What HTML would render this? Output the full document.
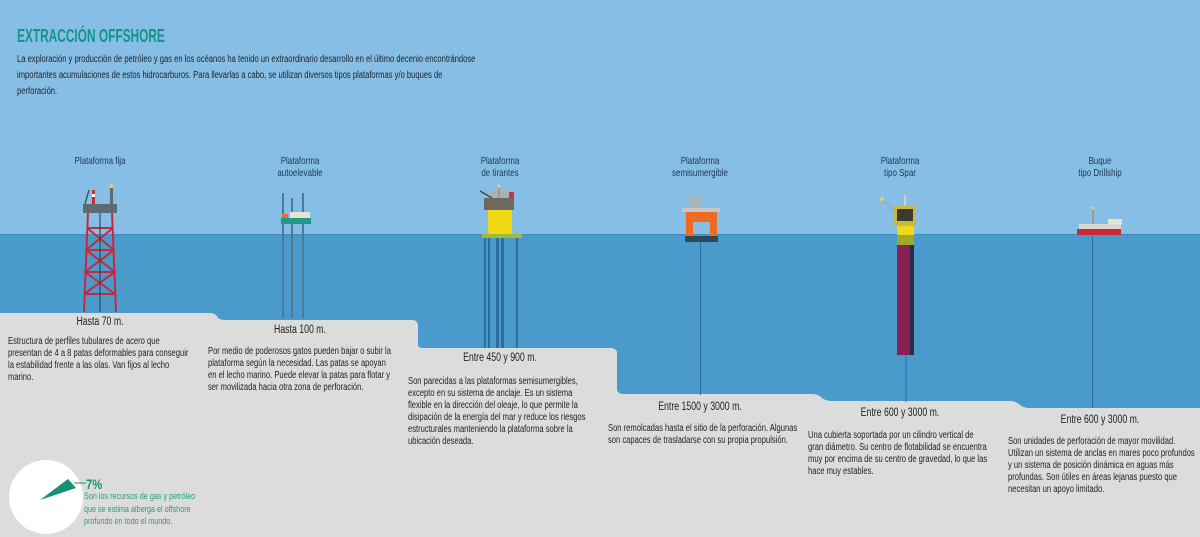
<!DOCTYPE html>
<html><head><meta charset="utf-8"><style>
body{margin:0;width:1200px;height:537px;overflow:hidden;font-family:"Liberation Sans",sans-serif;}
svg{position:absolute;left:0;top:0}
.t{position:absolute;color:#222;font-size:10px;line-height:12px;transform:scaleX(0.76);transform-origin:0 0;}
.c{text-align:center;color:#1e3550;font-size:10.5px;line-height:12px;transform-origin:50% 0;width:140px;white-space:nowrap}
.d{font-size:11.5px;text-align:center;color:#222;transform-origin:50% 0;width:140px;white-space:nowrap}
</style></head><body>
<svg width="1200" height="537" viewBox="0 0 1200 537">
<rect width="1200" height="235" fill="#86bee6"/>
<rect y="234" width="1200" height="303" fill="#4a9bcc"/>
<line x1="0" y1="234.5" x2="1200" y2="234.5" stroke="#3e8bbc"/>
<path d="M0 313 H210 Q216 313 218 318 Q220 320 226 320 H412 Q418 320 418 326 V345 Q418 348 424 348 H610 Q616 348 617 352 V390 Q618 394 624 394 H812 Q818 394 822 398 Q826 401 832 401 H1010 Q1016 401 1020 405 Q1024 408 1030 408 H1200 V537 H0 Z" fill="#dcdcdc"/>
<g stroke="#c8283c" stroke-width="2" fill="none">
<path d="M88 213 L84 312 M112 213 L116 312"/>
<path d="M87 228 H113 M86 250 H114 M85 272 H115 M84 294 H116 M87 228 L114 250 L85 272 L115 294 M113 228 L86 250 L115 272 L84 294"/>
</g>
<line x1="100" y1="213" x2="100" y2="312" stroke="#333" stroke-width="1"/>
<rect x="83" y="204" width="34" height="9" fill="#5d6b74"/>
<rect x="92" y="190" width="3" height="14" fill="#c8283c"/><rect x="92" y="194" width="3" height="3" fill="#fff"/>
<rect x="110" y="188" width="3" height="16" fill="#5d6b74"/><circle cx="111.5" cy="186" r="2" fill="#e8d060"/>
<line x1="85" y1="204" x2="89" y2="190" stroke="#555" stroke-width="1.5"/>
<g fill="#4a7b98"><rect x="282" y="193" width="2" height="125"/><rect x="291" y="198" width="2" height="120"/><rect x="302" y="193" width="2" height="125"/></g>
<rect x="281" y="218" width="30" height="6" fill="#1f9a88"/>
<rect x="290" y="212" width="20" height="6" fill="#e8e2d4"/><rect x="282" y="214" width="6" height="4" fill="#e86b30"/>
<g fill="#2e6e9e"><rect x="484" y="238" width="2" height="110"/><rect x="488" y="238" width="2" height="110"/><rect x="496" y="238" width="3" height="110"/><rect x="501" y="238" width="3" height="110"/><rect x="516" y="238" width="2" height="110"/></g>
<rect x="484" y="198" width="30" height="12" fill="#6c6a5e"/>
<rect x="490" y="190" width="20" height="8" fill="#aab0b4"/><rect x="509" y="192" width="5" height="6" fill="#d03040"/>
<line x1="480" y1="191" x2="492" y2="198" stroke="#444" stroke-width="1.5"/>
<rect x="498" y="188" width="2" height="10" fill="#999"/><circle cx="499" cy="186" r="1.5" fill="#e8d060"/>
<rect x="488" y="210" width="24" height="25" fill="#f0d816"/>
<rect x="482" y="234" width="40" height="4" fill="#a0bc3a"/>
<line x1="700.5" y1="242" x2="700.5" y2="395" stroke="#2e6e9e"/>
<rect x="689" y="196" width="12" height="14" fill="#a8b4bc"/>
<rect x="682" y="208" width="38" height="4" fill="#c8c8c8"/>
<rect x="686" y="212" width="31" height="10" fill="#f06a20"/>
<rect x="686" y="222" width="7" height="14" fill="#f06a20"/><rect x="710" y="222" width="7" height="14" fill="#f06a20"/>
<rect x="685" y="236" width="33" height="6" fill="#2a4a5e"/>
<line x1="906" y1="355" x2="906" y2="402" stroke="#2e6e9e"/>
<rect x="897" y="245" width="17" height="110" fill="#8a2050"/>
<rect x="910" y="245" width="4" height="110" fill="#2c2a4a"/>
<rect x="897" y="235" width="17" height="10" fill="#9ea82a"/>
<rect x="897" y="226" width="17" height="9" fill="#f0d816"/>
<rect x="894" y="206" width="22" height="20" fill="#c8b840"/>
<rect x="897" y="209" width="16" height="12" fill="#3a3a30"/>
<line x1="882" y1="200" x2="896" y2="212" stroke="#9ab" stroke-width="1.5"/><circle cx="882" cy="199" r="2" fill="#e8d060"/>
<rect x="904" y="195" width="2" height="11" fill="#ccc"/>
<line x1="1092.5" y1="236" x2="1092.5" y2="408" stroke="#2e6e9e"/>
<rect x="1077" y="229" width="44" height="6" fill="#c82a3a"/>
<rect x="1079" y="224" width="42" height="5" fill="#d8d8d0"/>
<rect x="1092" y="208" width="2" height="16" fill="#999"/><circle cx="1093" cy="208" r="1.5" fill="#e8d060"/>
<rect x="1108" y="219" width="14" height="5" fill="#e8e2d4"/>
<circle cx="46" cy="497" r="37" fill="#ffffff"/>
<path d="M40 500 L68 479 L76 488 Z" fill="#1a9078"/>
<line x1="74" y1="483" x2="86" y2="483" stroke="#1a9078"/>
</svg>
<div style="position:absolute;left:17px;top:26px;font-size:18px;font-weight:bold;color:#15948a;transform:scaleX(0.66);transform-origin:0 0;white-space:nowrap">EXTRACCIÓN OFFSHORE</div>
<div class="t" style="left:17px;top:52px;width:700px;line-height:16px;font-size:10px;white-space:nowrap">La exploración y producción de petróleo y gas en los océanos ha tenido un extraordinario desarrollo en el último decenio encontrándose<br>importantes acumulaciones de estos hidrocarburos. Para llevarlas a cabo, se utilizan diversos tipos plataformas y/o buques de<br>perforación.</div>
<div class="t c" style="left:30px;top:155px">Plataforma fija</div>
<div class="t c" style="left:230px;top:155px">Plataforma<br>autoelevable</div>
<div class="t c" style="left:430px;top:155px">Plataforma<br>de tirantes</div>
<div class="t c" style="left:630px;top:155px">Plataforma<br>semisumergible</div>
<div class="t c" style="left:830px;top:155px">Plataforma<br>tipo Spar</div>
<div class="t c" style="left:1030px;top:155px">Buque<br>tipo Drillship</div>
<div class="t d" style="left:30px;top:316px">Hasta 70 m.</div>
<div class="t" style="left:8px;top:336px;width:245px">Estructura de perfiles tubulares de acero que presentan de 4 a 8 patas deformables para conseguir la estabilidad frente a las olas. Van fijos al lecho marino.</div>
<div class="t d" style="left:230px;top:324px">Hasta 100 m.</div>
<div class="t" style="left:208px;top:346px;width:245px">Por medio de poderosos gatos pueden bajar o subir la plataforma según la necesidad. Las patas se apoyan en el lecho marino. Puede elevar la patas para flotar y ser movilizada hacia otra zona de perforación.</div>
<div class="t d" style="left:430px;top:352px">Entre 450 y 900 m.</div>
<div class="t" style="left:408px;top:376px;width:250px">Son parecidas a las plataformas semisumergibles, excepto en su sistema de anclaje. Es un sistema flexible en la dirección del oleaje, lo que permite la disipación de la energía del mar y reduce los riesgos estructurales manteniendo la plataforma sobre la ubicación deseada.</div>
<div class="t d" style="left:630px;top:401px">Entre 1500 y 3000 m.</div>
<div class="t" style="left:608px;top:423px;width:250px">Son remolcadas hasta el sitio de la perforación. Algunas son capaces de trasladarse con su propia propulsión.</div>
<div class="t d" style="left:830px;top:407px">Entre 600 y 3000 m.</div>
<div class="t" style="left:808px;top:430px;width:240px">Una cubierta soportada por un cilindro vertical de gran diámetro. Su centro de flotabilidad se encuentra muy por encima de su centro de gravedad, lo que las hace muy estables.</div>
<div class="t d" style="left:1030px;top:414px">Entre 600 y 3000 m.</div>
<div class="t" style="left:1008px;top:436px;width:250px">Son unidades de perforación de mayor movilidad. Utilizan un sistema de anclas en mares poco profundos y un sistema de posición dinámica en aguas más profundas. Son útiles en áreas lejanas puesto que necesitan un apoyo limitado.</div>
<div style="position:absolute;left:86px;top:476px;font-size:14px;font-weight:bold;color:#1a9078;transform:scaleX(0.8);transform-origin:0 0">7%</div>
<div class="t" style="left:84px;top:491px;width:150px;color:#2a9a80;font-size:9.5px;line-height:12.5px">Son los recursos de gas y petróleo que se estima alberga el offshore profundo en todo el mundo.</div>
</body></html>
